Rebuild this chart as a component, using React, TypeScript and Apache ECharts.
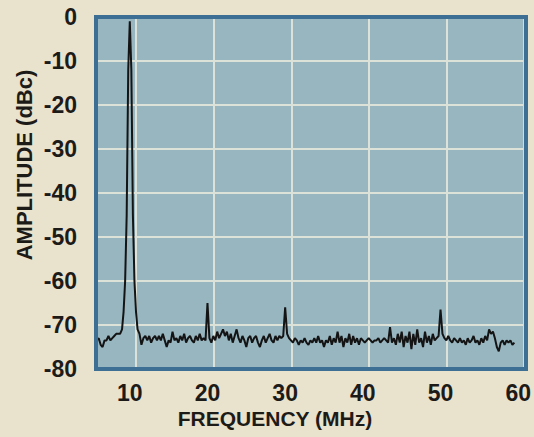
import React, { useEffect, useRef } from "react";
import * as echarts from "echarts";

// Tick labels
const FREQ_TICKS = [10, 20, 30, 40, 50, 60];
const AMP_MIN = -80;
const AMP_MAX = 0;
const AMP_STEP = 10;
// Printed vertical grid lines (slightly offset from the labels in the original)
const FREQ_GRID = [10.8, 20.8, 30.8, 40.8, 50.8];

// Spectrum trace: [frequency MHz, amplitude dBc]
const spectrum: [number, number][] = [
  [5.5, -72.5], [5.75, -73.5], [6, -73], [6.25, -74.5], [6.5, -75], [6.75, -73.5], [7, -73.5], [7.25, -72.5],
  [7.5, -73.5], [7.75, -73], [8, -72.5], [8.25, -72], [8.5, -72], [8.75, -72],
  [9, -71], [9.2, -67], [9.4, -60], [9.6, -45], [9.8, -12], [10, -1], [10.2, -12], [10.4, -45], [10.6, -60],
  [10.8, -67], [11, -71],
  [11.25, -72], [11.5, -74.5], [11.75, -73], [12, -72.5], [12.25, -73.5], [12.5, -72.5], [12.75, -74], [13, -73],
  [13.25, -72.5], [13.5, -73.5], [13.75, -72.5], [14, -73.5], [14.25, -72], [14.5, -73.5], [14.75, -75], [15, -73.5],
  [15.25, -74], [15.5, -71.5], [15.75, -73.5], [16, -73], [16.25, -74], [16.5, -72.5], [16.75, -73.5], [17, -72],
  [17.25, -74], [17.5, -73], [17.75, -72.5], [18, -73.5], [18.25, -74], [18.5, -72.5], [18.75, -73.5], [19, -72],
  [19.25, -73.5], [19.5, -73], [19.75, -73.5], [20, -65], [20.25, -73],
  [20.5, -74], [20.75, -72.5], [21, -73.5], [21.25, -71.5], [21.5, -73], [21.75, -72], [22, -71], [22.25, -72.5],
  [22.5, -71.5], [22.75, -73.5], [23, -72], [23.25, -74], [23.5, -72.5], [23.75, -71], [24, -73], [24.25, -74],
  [24.5, -72.5], [24.75, -73.5], [25, -75], [25.25, -73], [25.5, -72.5], [25.75, -74], [26, -73], [26.25, -72.5],
  [26.5, -74], [26.75, -75], [27, -73.5], [27.25, -72.5], [27.5, -74], [27.75, -73], [28, -72], [28.25, -73.5],
  [28.5, -74], [28.75, -72.5], [29, -73.5], [29.25, -72.5], [29.5, -73], [29.75, -72.5], [30, -66], [30.25, -72],
  [30.5, -73], [30.75, -73.5], [31, -74], [31.25, -73], [31.5, -73.5], [31.75, -74.5], [32, -73.5], [32.25, -74],
  [32.5, -73], [32.75, -74], [33, -74.5], [33.25, -73.5], [33.5, -74], [33.75, -73], [34, -74], [34.25, -72.5],
  [34.5, -74], [34.75, -73.5], [35, -75], [35.25, -73.5], [35.5, -74], [35.75, -72.5], [36, -74.5], [36.25, -73],
  [36.5, -74], [36.75, -71.5], [37, -74], [37.25, -72.5], [37.5, -75], [37.75, -73], [38, -74], [38.25, -72],
  [38.5, -74.5], [38.75, -72.5], [39, -74], [39.25, -73], [39.5, -74.5], [39.75, -73],
  [40, -73.5], [40.25, -74], [40.5, -73.5], [40.75, -73], [41, -73.5], [41.25, -74], [41.5, -73.5], [41.75, -73.5],
  [42, -73], [42.25, -74], [42.5, -73.5], [42.75, -73], [43, -73.5], [43.25, -74], [43.5, -70.5], [43.75, -74],
  [44, -73], [44.25, -74.5], [44.5, -72], [44.75, -74], [45, -71.5], [45.25, -75], [45.5, -72.5], [45.75, -74],
  [46, -71.5], [46.25, -75.5], [46.5, -72], [46.75, -74.5], [47, -71], [47.25, -74], [47.5, -73], [47.75, -75],
  [48, -71.5], [48.25, -74], [48.5, -72.5], [48.75, -74.5], [49, -72], [49.25, -73.5], [49.5, -73], [49.75, -72.5],
  [50, -66.5], [50.25, -72], [50.5, -73],
  [50.75, -73.5], [51, -72.5], [51.25, -73.5], [51.5, -74], [51.75, -73], [52, -73.5], [52.25, -74], [52.5, -73],
  [52.75, -74], [53, -73.5], [53.25, -74.5], [53.5, -73], [53.75, -74], [54, -73.5], [54.25, -72.5], [54.5, -74],
  [54.75, -73.5], [55, -74.5], [55.25, -73], [55.5, -74], [55.75, -72.5], [56, -73.5], [56.25, -71], [56.5, -72],
  [56.75, -71.5], [57, -73], [57.25, -75], [57.5, -76], [57.75, -74], [58, -73.5], [58.25, -74.5], [58.5, -73.5],
  [58.75, -74], [59, -73.5], [59.25, -74.5], [59.5, -74],
];

const PAPER = "#e9e2cd";
const PLOT_FILL = "#98b6c0";
const FRAME = "#3d6e93";
const GRID_LINE = "#dde2d8";
const INK = "#1d1b18";
const FONT = "'Liberation Sans', Arial, sans-serif";

const W = 534;
const H = 437;
const G_LEFT = 96;
const G_TOP = 17;
const G_RIGHT = 8;
const G_BOTTOM = 68;

export default function App() {
  const ref = useRef<HTMLDivElement>(null);
  useEffect(() => {
    if (!ref.current) return;
    const chart = echarts.init(ref.current, null, { renderer: "svg" });
    chart.setOption({
      animation: false,
      backgroundColor: PAPER,
      grid: {
        left: G_LEFT,
        top: G_TOP,
        right: G_RIGHT,
        bottom: G_BOTTOM,
        show: true,
        backgroundColor: PLOT_FILL,
        borderWidth: 0,
      },
      xAxis: {
        type: "value",
        min: 5.65,
        max: 60.64,
        axisLine: { show: false },
        axisTick: { show: false },
        splitLine: { show: false },
        axisLabel: {
          customValues: FREQ_TICKS,
          fontSize: 23,
          fontWeight: "bold",
          fontFamily: FONT,
          color: INK,
          margin: 12,
        },
      },
      yAxis: {
        type: "value",
        min: AMP_MIN,
        max: AMP_MAX,
        interval: AMP_STEP,
        axisLine: { show: false },
        axisTick: { show: false },
        splitLine: {
          show: true,
          showMinLine: false,
          showMaxLine: false,
          lineStyle: { color: GRID_LINE, width: 2 },
        },
        axisLabel: {
          fontSize: 23,
          fontWeight: "bold",
          fontFamily: FONT,
          color: INK,
          margin: 19,
        },
      },
      graphic: [
        {
          type: "rect",
          z: 100,
          silent: true,
          shape: { x: G_LEFT, y: G_TOP, width: W - G_LEFT - G_RIGHT, height: H - G_TOP - G_BOTTOM },
          style: { fill: "none", stroke: FRAME, lineWidth: 4 },
        },
        {
          type: "text",
          x: 275,
          y: 418,
          silent: true,
          style: {
            text: "FREQUENCY (MHz)",
            fontSize: 21,
            fontWeight: "bold",
            fontFamily: FONT,
            fill: INK,
            align: "center",
            verticalAlign: "middle",
          },
        },
        {
          type: "text",
          x: 24,
          y: 165,
          rotation: Math.PI / 2,
          silent: true,
          style: {
            text: "AMPLITUDE (dBc)",
            fontSize: 22,
            fontWeight: "bold",
            fontFamily: FONT,
            fill: INK,
            align: "center",
            verticalAlign: "middle",
          },
        },
      ],
      series: [
        {
          type: "line",
          z: 1,
          data: [],
          silent: true,
          markLine: {
            silent: true,
            symbol: "none",
            label: { show: false },
            lineStyle: { color: GRID_LINE, width: 2, type: "solid" },
            data: FREQ_GRID.map((v) => ({ xAxis: v })),
          },
        },
        {
          type: "line",
          z: 5,
          data: spectrum,
          showSymbol: false,
          symbol: "none",
          silent: true,
          lineStyle: { color: "#141414", width: 2 },
        },
      ],
    });
    return () => chart.dispose();
  }, []);
  return (
    <div
      ref={ref}
      style={{ position: "fixed", left: 0, top: 0, width: W, height: H, background: PAPER }}
    />
  );
}
